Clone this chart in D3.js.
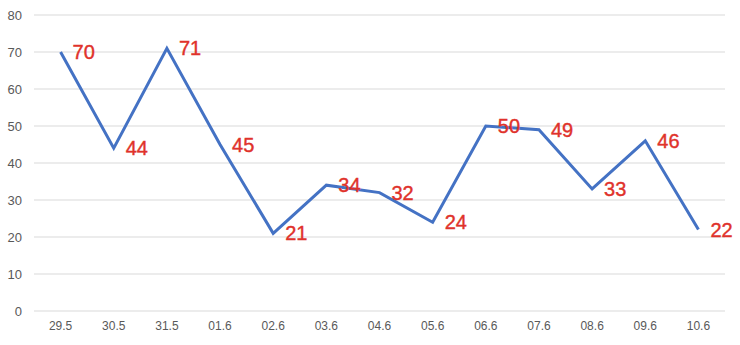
<!DOCTYPE html>
<meta charset="utf-8">
<head>
	<script src="https://d3js.org/d3.v7.min.js"></script>
	<style>
		body { margin: 0; background: #fff; }
		.tick text { fill: #595959; font-family: "Liberation Sans", Arial, sans-serif; font-size: 12px; }
		.yaxis .tick text { font-size: 13px; }
	</style>
</head>
<body>
<script>
"use strict";
// data
var dates = ["29.5", "30.5", "31.5", "01.6", "02.6", "03.6", "04.6", "05.6", "06.6", "07.6", "08.6", "09.6", "10.6"];
var values = [70, 44, 71, 45, 21, 34, 32, 24, 50, 49, 33, 46, 22];
var yTicks = [0, 10, 20, 30, 40, 50, 60, 70, 80];

var width = 740, height = 345;

var svg = d3.select("body").append("svg")
	.attr("width", width)
	.attr("height", height);

var x = d3.scaleBand()
	.domain(dates)
	.range([34, 725]);

var y = d3.scaleLinear()
	.domain([0, 80])
	.range([311, 15]);

// gridlines
svg.append("g")
	.selectAll("line")
	.data(yTicks)
	.enter().append("line")
		.attr("x1", 34)
		.attr("x2", 725)
		.attr("y1", d => y(d))
		.attr("y2", d => y(d))
		.attr("stroke", "#d9d9d9")
		.attr("stroke-width", 1);

var yAxis = svg.append("g")
	.attr("class", "yaxis")
	.attr("transform", "translate(22,0)")
	.call(d3.axisLeft(y).tickValues(yTicks).tickSize(0).tickPadding(0));
yAxis.select(".domain").remove();

var xAxis = svg.append("g")
	.attr("transform", "translate(0,311)")
	.call(d3.axisBottom(x).tickSize(0).tickPadding(10));
xAxis.select(".domain").remove();

var line = d3.line()
	.x((d, i) => x(dates[i]) + x.bandwidth() / 2)
	.y(d => y(d));

svg.append("path")
	.datum(values)
	.attr("d", line)
	.attr("fill", "none")
	.attr("stroke", "#4472C4")
	.attr("stroke-width", 3)
	.attr("stroke-linejoin", "miter");

svg.append("g")
	.selectAll("text")
	.data(values)
	.enter().append("text")
		.attr("x", (d, i) => x(dates[i]) + x.bandwidth() / 2 + 12)
		.attr("y", d => y(d) + 7)
		.attr("fill", "#E0322B")
		.attr("stroke", "#E0322B")
		.attr("stroke-width", 0.4)
		.style("font-family", "'Liberation Sans', Arial, sans-serif")
		.style("font-size", "20px")
		.text(d => d);
</script>
</body>
